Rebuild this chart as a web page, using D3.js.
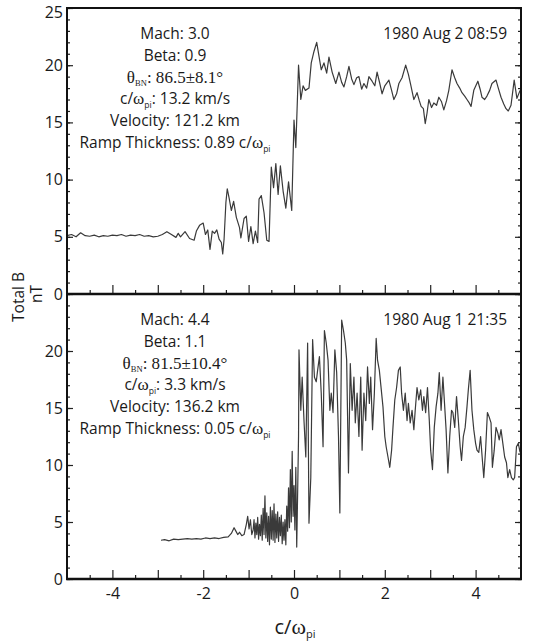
<!DOCTYPE html>
<html>
<head>
<meta charset="utf-8">
<script src="https://cdnjs.cloudflare.com/ajax/libs/d3/7.8.5/d3.min.js"></script>
<style>
body { margin: 0; background: #fff; }
text { font-family: "Open Sans", sans-serif; fill: #1a1a1a; }
</style>
</head>
<body>
<svg width="533" height="643"></svg>
<script>
// shock crossing 1980 Aug 2 08:59  [c/wpi, |B| nT]
var shockA = [[-5.0,5.1],[-4.9,5.2],[-4.8,5.0],[-4.7,5.35],[-4.6,5.1],[-4.5,5.05],[-4.4,5.15],[-4.3,5.0],
  [-4.2,5.1],[-4.1,5.05],[-4.0,5.15],[-3.9,5.1],[-3.8,5.2],[-3.7,5.05],[-3.6,5.15],[-3.5,5.1],[-3.4,5.2],
  [-3.3,5.05],[-3.2,5.1],[-3.1,5.0],[-3.0,5.05],[-2.9,5.2],[-2.8,5.45],[-2.7,5.2],[-2.6,4.95],[-2.55,5.3],
  [-2.5,5.0],[-2.4,5.45],[-2.3,4.85],[-2.2,4.7],[-2.15,5.5],[-2.08,6.0],[-2.0,6.2],[-1.95,5.2],[-1.9,5.6],
  [-1.85,3.9],[-1.8,5.5],[-1.75,5.3],[-1.7,5.6],[-1.65,4.8],[-1.6,4.5],[-1.57,3.5],[-1.54,4.8],[-1.5,8.0],
  [-1.47,9.2],[-1.43,8.4],[-1.38,7.3],[-1.33,8.1],[-1.27,6.7],[-1.2,5.8],[-1.17,4.9],[-1.1,6.6],[-1.05,6.8],
  [-1.0,4.6],[-0.95,5.9],[-0.9,4.4],[-0.85,5.5],[-0.8,4.5],[-0.77,8.3],[-0.72,8.6],[-0.66,7.1],[-0.6,4.7],
  [-0.55,4.6],[-0.5,11.1],[-0.45,9.3],[-0.4,11.4],[-0.35,8.7],[-0.3,11.2],[-0.24,9.0],[-0.18,7.5],[-0.12,9.8],
  [-0.05,7.3],[0.0,15.2],[0.04,12.8],[0.1,20.0],[0.15,17.0],[0.2,18.2],[0.25,17.8],[0.33,18.0],[0.38,20.2],
  [0.44,21.2],[0.5,22.0],[0.55,20.8],[0.6,19.6],[0.66,20.2],[0.72,19.3],[0.77,20.7],[0.84,19.4],[0.92,18.4],
  [0.99,19.4],[1.05,18.5],[1.1,18.1],[1.16,19.0],[1.21,19.9],[1.27,18.8],[1.32,18.3],[1.38,18.9],[1.43,19.0],
  [1.49,17.9],[1.54,18.4],[1.6,18.0],[1.65,19.0],[1.72,18.6],[1.78,18.2],[1.83,19.4],[1.89,18.4],[1.94,17.5],
  [2.0,18.2],[2.09,18.7],[2.15,17.8],[2.2,17.0],[2.26,17.5],[2.31,18.4],[2.38,18.9],[2.46,20.0],[2.52,19.2],
  [2.57,18.3],[2.64,17.0],[2.71,17.6],[2.76,16.9],[2.8,16.4],[2.85,16.2],[2.89,14.9],[2.93,15.8],[2.97,17.0],
  [3.03,16.3],[3.08,16.7],[3.14,16.5],[3.19,17.2],[3.25,16.8],[3.3,16.1],[3.36,16.9],[3.41,17.8],[3.48,19.6],
  [3.54,18.9],[3.59,18.4],[3.65,18.0],[3.7,17.6],[3.76,17.3],[3.81,17.0],[3.86,16.7],[3.9,16.4],[3.96,17.8],
  [4.05,18.6],[4.1,17.9],[4.14,17.2],[4.2,17.0],[4.25,17.3],[4.31,17.8],[4.36,18.4],[4.45,18.7],[4.5,18.0],
  [4.56,17.2],[4.62,16.6],[4.67,16.2],[4.72,16.0],[4.78,16.5],[4.85,18.7],[4.91,17.1],[4.98,17.8]]

// shock crossing 1980 Aug 1 21:35
var shockB = [[-2.93,3.4],[-2.85,3.45],[-2.75,3.35],[-2.65,3.5],[-2.55,3.45],[-2.45,3.5],[-2.35,3.55],
  [-2.25,3.5],[-2.15,3.55],[-2.05,3.5],[-1.95,3.6],[-1.85,3.55],[-1.75,3.6],[-1.65,3.55],[-1.55,3.65],
  [-1.45,3.7],[-1.38,4.0],[-1.32,4.5],[-1.28,4.2],[-1.24,3.9],[-1.2,4.1],[-1.15,3.8],[-1.1,3.9],[-1.05,4.8],
  [-1.02,5.5],[-0.99,4.4],[-0.96,5.2],[-0.93,3.9],[-0.9,4.3],
  [-0.88,5.2],[-0.86,3.6],[-0.84,4.9],[-0.82,3.9],[-0.80,5.4],[-0.78,3.5],[-0.76,4.8],[-0.74,3.8],
  [-0.72,5.6],[-0.70,3.4],[-0.68,6.2],[-0.66,3.9],[-0.64,7.3],[-0.62,3.6],[-0.60,5.8],[-0.58,3.3],
  [-0.56,5.5],[-0.54,3.0],[-0.52,6.3],[-0.50,3.5],[-0.48,6.0],[-0.46,3.4],[-0.44,6.6],[-0.42,3.2],
  [-0.40,5.7],[-0.38,3.6],[-0.36,5.9],[-0.34,3.3],[-0.32,5.4],[-0.30,3.8],[-0.28,5.6],[-0.26,3.1],
  [-0.24,5.0],[-0.22,3.4],[-0.20,5.2],[-0.18,3.0],[-0.16,6.4],[-0.14,4.2],[-0.12,8.0],[-0.10,4.5],
  [-0.08,9.6],[-0.06,5.0],[-0.04,11.2],[-0.02,5.5],[0.0,8.2],[0.02,4.3],[0.04,9.8],[0.06,2.8],[0.08,7.5],
  [0.10,12.5],[0.11,20.1],[0.15,14.8],[0.18,17.7],[0.22,13.9],[0.26,10.7],[0.3,20.7],[0.33,4.9],[0.37,8.9],
  [0.41,21.0],[0.45,17.7],[0.49,17.3],[0.52,18.3],[0.56,19.5],[0.6,16.3],[0.64,11.6],[0.67,21.8],[0.71,20.7],
  [0.75,19.2],[0.79,14.8],[0.82,16.3],[0.86,14.6],[0.9,20.1],[0.94,18.1],[0.98,12.5],[1.01,5.8],[1.05,22.7],
  [1.09,21.8],[1.13,20.7],[1.16,19.2],[1.2,9.3],[1.24,18.9],[1.28,14.8],[1.32,17.7],[1.35,13.7],[1.39,16.3],
  [1.43,12.5],[1.47,17.7],[1.5,11.3],[1.54,16.3],[1.58,13.9],[1.62,18.6],[1.66,15.4],[1.69,17.7],[1.73,13.1],
  [1.77,16.3],[1.81,21.1],[1.84,19.2],[1.88,18.3],[1.96,15.1],[2.0,12.5],[2.03,11.6],[2.07,10.7],[2.11,9.8],
  [2.15,11.3],[2.18,13.3],[2.22,15.7],[2.26,16.8],[2.3,18.3],[2.34,18.6],[2.37,16.3],[2.41,14.8],[2.45,16.3],
  [2.49,13.9],[2.52,15.4],[2.56,13.7],[2.6,14.8],[2.64,13.1],[2.67,14.8],[2.71,16.8],[2.75,15.7],[2.79,16.6],
  [2.83,14.8],[2.86,16.0],[2.9,14.6],[2.94,16.8],[2.98,13.9],[3.01,11.3],[3.05,9.6],[3.09,13.3],[3.13,15.1],
  [3.17,16.3],[3.2,18.1],[3.24,14.8],[3.28,17.7],[3.32,15.1],[3.35,13.1],[3.39,9.3],[3.43,12.5],[3.47,14.8],
  [3.5,14.6],[3.54,13.3],[3.58,16.0],[3.62,13.9],[3.66,11.6],[3.69,10.4],[3.73,12.5],[3.77,13.3],[3.81,15.1],
  [3.84,16.6],[3.88,18.3],[3.92,14.8],[3.96,13.1],[4.0,11.9],[4.03,11.3],[4.07,11.1],[4.11,12.5],[4.15,10.4],
  [4.18,8.9],[4.22,11.3],[4.26,14.6],[4.3,14.2],[4.34,13.7],[4.37,9.8],[4.41,11.3],[4.45,13.3],[4.49,12.8],
  [4.52,12.2],[4.56,13.1],[4.6,11.9],[4.64,10.7],[4.68,10.2],[4.71,8.9],[4.75,9.6],[4.79,8.9],[4.83,8.7],
  [4.86,8.9],[4.9,11.6],[4.94,11.9],[4.98,11.1]]

var xLabels = [-4, -2, 0, 2, 4]
var yLabelsTop = [0, 5, 10, 15, 20, 25]
var yLabelsBottom = [0, 5, 10, 15, 20]
var stamps = ['1980 Aug 2 08:59', '1980 Aug 1 21:35']
var machs = ['3.0', '4.4']
var betas = ['0.9', '1.1']
var thetas = ['86.5\u00b18.1\u00b0', '81.5\u00b110.4\u00b0']
var inertial = ['13.2 km/s', '3.3 km/s']
var speeds = ['121.2 km', '136.2 km']
var ramps = ['0.89', '0.05']

var svg = d3.select('svg')
var x = d3.scaleLinear().domain([-5, 5]).range([67, 521])

var panels = [
  {data: shockA, y: d3.scaleLinear().domain([0, 25]).range([294, 8]), labels: yLabelsTop, top: 39},
  {data: shockB, y: d3.scaleLinear().domain([0, 25]).range([579, 294]), labels: yLabelsBottom, top: 325}
]

var serif = '"Liberation Serif", "DejaVu Serif", serif'

function infoLine(g, cx, cy, parts, size) {
  var t = g.append('text').attr('x', cx).attr('y', cy)
    .attr('text-anchor', 'middle').style('font-size', size + 'px')
  var shift = 0
  parts.forEach(function(p) {
    var s = t.append('tspan').text(p[0])
    var want = p[1] == 's' ? 3.5 : 0
    if (want != shift) { s.attr('dy', want - shift); shift = want }
    var isSerif = p[1] == 'g' || p[2] == 'g'
    if (p[1] == 's') s.style('font-size', (size * 0.55) + 'px')
    else if (isSerif) s.style('font-size', (size * 1.1) + 'px')
    if (isSerif) s.style('font-family', serif)
  })
  return t
}

panels.forEach(function(p, i) {
  var g = svg.append('g')
  var y = p.y

  // ticks inside the box
  g.append('g').attr('transform', 'translate(67,0)')
    .call(d3.axisLeft(y).tickValues(d3.range(0, 26)).tickSize(-3).tickFormat(''))
  g.append('g').attr('class', 'ylab').attr('transform', 'translate(67,0)')
    .call(d3.axisLeft(y).tickValues(p.labels).tickSize(-6).tickPadding(4).tickFormat(String))
  g.append('g').attr('transform', 'translate(521,0)')
    .call(d3.axisRight(y).tickValues(d3.range(0, 26)).tickSize(-3).tickFormat(''))
  g.append('g').attr('transform', 'translate(521,0)')
    .call(d3.axisRight(y).tickValues(d3.range(0, 26, 5)).tickSize(-6).tickFormat(''))
  g.append('g').attr('transform', 'translate(0,' + y(0) + ')')
    .call(d3.axisBottom(x).tickValues(d3.range(-4.5, 5, 1)).tickSize(-4).tickFormat(''))
  g.append('g').attr('transform', 'translate(0,' + y(0) + ')')
    .call(d3.axisBottom(x).tickValues(d3.range(-4, 5, 1)).tickSize(-9).tickFormat(''))

  g.selectAll('.domain').remove()
  g.selectAll('.tick line').attr('stroke', '#222').attr('stroke-width', 1.2)
  g.selectAll('.tick text').style('font-size', '16px').attr('fill', '#1a1a1a')
  // the top label sits just below its tick so it stays inside the page
  g.selectAll('.ylab .tick text').filter(function(d) { return d == 25 }).attr('dy', '0.62em')

  var line = d3.line()
    .x(function(d) { return x(d[0]) })
    .y(function(d) { return y(d[1]) })

  g.append('path')
    .attr('d', line(p.data))
    .attr('fill', 'none')
    .attr('stroke', '#3a3a3a')
    .attr('stroke-width', 1.2)
    .attr('stroke-linejoin', 'round')

  g.append('rect')
    .attr('x', 67).attr('y', y(25))
    .attr('width', 521 - 67).attr('height', y(0) - y(25))
    .attr('fill', 'none').attr('stroke', '#111').attr('stroke-width', 2)
  g.append('line')
    .attr('x1', 66).attr('x2', 522).attr('y1', y(0)).attr('y2', y(0))
    .attr('stroke', '#111').attr('stroke-width', 2.6)

  // annotations
  var cx = 175, t0 = p.top, step = 21.8, fs = 15.5
  infoLine(g, cx, t0, [['Mach: ' + machs[i]]], fs)
  infoLine(g, cx, t0 + step, [['Beta: ' + betas[i]]], fs)
  infoLine(g, cx, t0 + step * 2, [['\u03b8', 'g'], ['BN', 's', 'g'], [': ' + thetas[i], 'g']], fs)
  infoLine(g, cx, t0 + step * 3, [['c/'], ['\u03c9', 'g'], ['pi', 's'], [': ' + inertial[i]]], fs)
  infoLine(g, cx, t0 + step * 4, [['Velocity: ' + speeds[i]]], fs)
  infoLine(g, cx, t0 + step * 5, [['Ramp Thickness: ' + ramps[i] + ' c/'], ['\u03c9', 'g'], ['pi', 's']], fs)

  g.append('text').attr('x', 507).attr('y', t0)
    .attr('text-anchor', 'end').style('font-size', fs + 'px')
    .text(stamps[i])
})

// x tick labels under the lower panel (plain hyphen minus, as in the figure)
svg.append('g').attr('transform', 'translate(0,579)')
  .call(d3.axisBottom(x).tickValues(xLabels).tickSize(0).tickPadding(9).tickFormat(String))
  .call(function(a) { a.select('.domain').remove() })
  .selectAll('text').style('font-size', '16px').attr('fill', '#1a1a1a')

infoLine(svg, 295, 634, [['c/'], ['\u03c9', 'g'], ['pi', 's']], 20)

svg.append('text').attr('transform', 'translate(24,297) rotate(-90)')
  .attr('text-anchor', 'middle').style('font-size', '15.5px').text('Total B')
svg.append('text').attr('transform', 'translate(42,294) rotate(-90)')
  .attr('text-anchor', 'middle').style('font-size', '15.5px').text('nT')
</script>
</body>
</html>
